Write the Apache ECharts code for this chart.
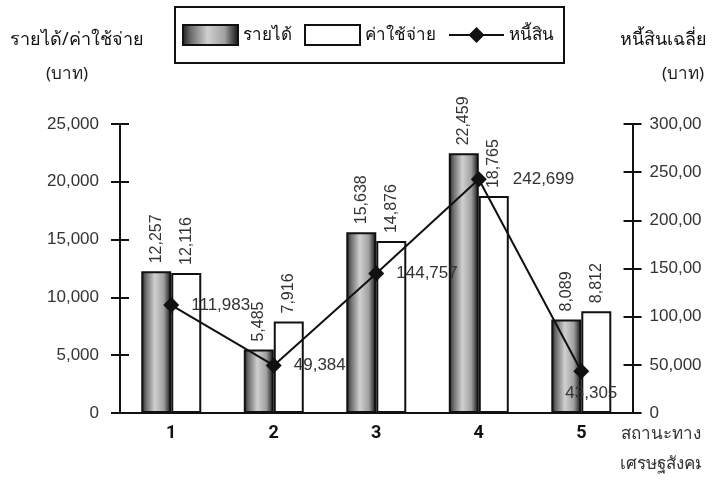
<!DOCTYPE html>
<html><head><meta charset="utf-8">
<script src="https://cdn.jsdelivr.net/npm/echarts@6/dist/echarts.min.js"></script>
<style>html,body{margin:0;padding:0;background:#fff}#c{width:714px;height:494px}</style>
</head><body><div id="c"></div>
<script>
const categories = ['1', '2', '3', '4', '5'];
const income = [12257, 5485, 15638, 22459, 8089];
const expense = [12116, 7916, 14876, 18765, 8812];
const debt = [111983, 49384, 144757, 242699, 43305];
const leftTicks = [0, 5000, 10000, 15000, 20000, 25000];
const rightTicks = [0, 50000, 100000, 150000, 200000, 250000, 300000];
const debtLabelPos = ['right', 'right', 'right', 'right', 'bottom'];

const NUM = '"Liberation Sans", Arial, sans-serif';
const TH = '"Noto Sans", "DejaVu Sans", sans-serif';
const fmt = v => v.toLocaleString('en-US');

const chart = echarts.init(document.getElementById('c'));
const lineStyleBlack = {color: '#111', width: 2};

function yAx(pos, min, max, interval, main) {
  return {
    type: 'value', position: pos, min: min, max: max, interval: interval,
    splitLine: {show: false},
    axisLine: {show: main, lineStyle: lineStyleBlack},
    axisTick: {show: true, inside: !main, length: 9, lineStyle: lineStyleBlack},
    axisLabel: {show: main, formatter: v => fmt(v), color: '#333', fontFamily: NUM, fontSize: 17, margin: pos === 'left' ? 21 : 17}
  };
}

const debtPoints = debt.map((v, i) => {
  const lab = {position: debtLabelPos[i]};
  if (i === 3) lab.distance = 26;
  if (i === 4) { lab.distance = 6; lab.offset = [10, 0]; }
  return {value: v, label: lab};
});

chart.setOption({
  animation: false,
  backgroundColor: '#fff',
  grid: {left: 120, right: 79, top: 124, bottom: 81},
  legend: {
    left: 175, top: 7,
    padding: [17, 10, 17, 7],
    itemGap: 12, itemWidth: 55, itemHeight: 20,
    borderColor: '#111', borderWidth: 2,
    textStyle: {fontFamily: TH, fontSize: 17, color: '#111'},
    data: [{name: 'รายได้', icon: 'rect'}, {name: 'ค่าใช้จ่าย', icon: 'rect'}, {name: 'หนี้สิน'}]
  },
  xAxis: [{
    type: 'category', data: categories,
    axisLine: {lineStyle: lineStyleBlack},
    axisTick: {length: 9, lineStyle: lineStyleBlack},
    axisLabel: {fontFamily: 'Roboto, "Liberation Sans", sans-serif', fontWeight: 'bold', fontSize: 18, color: '#111', margin: 11}
  }, {
    type: 'category', data: categories, position: 'bottom',
    axisLine: {show: false},
    axisTick: {inside: true, length: 8, lineStyle: lineStyleBlack},
    axisLabel: {show: false}
  }],
  yAxis: [
    yAx('left', 0, 25000, 5000, true),
    yAx('right', 0, 300000, 50000, true),
    yAx('left', 0, 25000, 5000, false),
    yAx('right', 0, 300000, 50000, false)
  ],
  series: [{
    name: 'รายได้', type: 'bar', data: income, barWidth: 30, barGap: '0%', yAxisIndex: 0,
    itemStyle: {
      color: {type: 'linear', x: 0, y: 0, x2: 1, y2: 0, colorStops: [
        {offset: 0, color: '#1a1a1a'}, {offset: 0.15, color: '#6a6a6a'}, {offset: 0.45, color: '#d0d0d0'},
        {offset: 0.75, color: '#a0a0a0'}, {offset: 0.92, color: '#3a3a3a'}, {offset: 1, color: '#111'}]},
      borderColor: '#111', borderWidth: 2
    },
    label: {show: true, position: 'top', rotate: 90, align: 'left', verticalAlign: 'middle', distance: 8,
      formatter: p => fmt(p.value), fontFamily: NUM, fontSize: 16, color: '#333'}
  }, {
    name: 'ค่าใช้จ่าย', type: 'bar', data: expense, barWidth: 30, yAxisIndex: 0,
    itemStyle: {color: '#fff', borderColor: '#111', borderWidth: 2},
    label: {show: true, position: 'top', rotate: 90, align: 'left', verticalAlign: 'middle', distance: 8,
      formatter: p => fmt(p.value), fontFamily: NUM, fontSize: 16, color: '#333'}
  }, {
    name: 'หนี้สิน', type: 'line', yAxisIndex: 1,
    data: debtPoints,
    symbol: 'diamond', symbolSize: 16,
    lineStyle: {color: '#111', width: 2}, itemStyle: {color: '#111'},
    label: {show: true, distance: 12, formatter: p => fmt(p.value), fontFamily: NUM, fontSize: 17, color: '#333'},
    z: 5
  }],
  graphic: [
    {type: 'text', left: 10, top: 31, style: {text: 'รายได้/ค่าใช้จ่าย', font: '18px ' + TH, fill: '#111'}},
    {type: 'text', left: 46, top: 66, style: {text: '(บาท)', font: '17px ' + TH, fill: '#222'}},
    {type: 'text', left: 620, top: 31, style: {text: 'หนี้สินเฉลี่ย', font: '18px ' + TH, fill: '#111'}},
    {type: 'text', left: 662, top: 66, style: {text: '(บาท)', font: '17px ' + TH, fill: '#222'}},
    {type: 'text', left: 621, top: 426, style: {text: 'สถานะทาง', font: '17px ' + TH, fill: '#333'}},
    {type: 'text', left: 620, top: 456, style: {text: 'เศรษฐสังคม', font: '17px ' + TH, fill: '#333'}},
    {type: 'rect', shape: {x: 701, y: 100, width: 13, height: 394}, style: {fill: '#fff'}, z: 100}
  ]
});
</script></body></html>
